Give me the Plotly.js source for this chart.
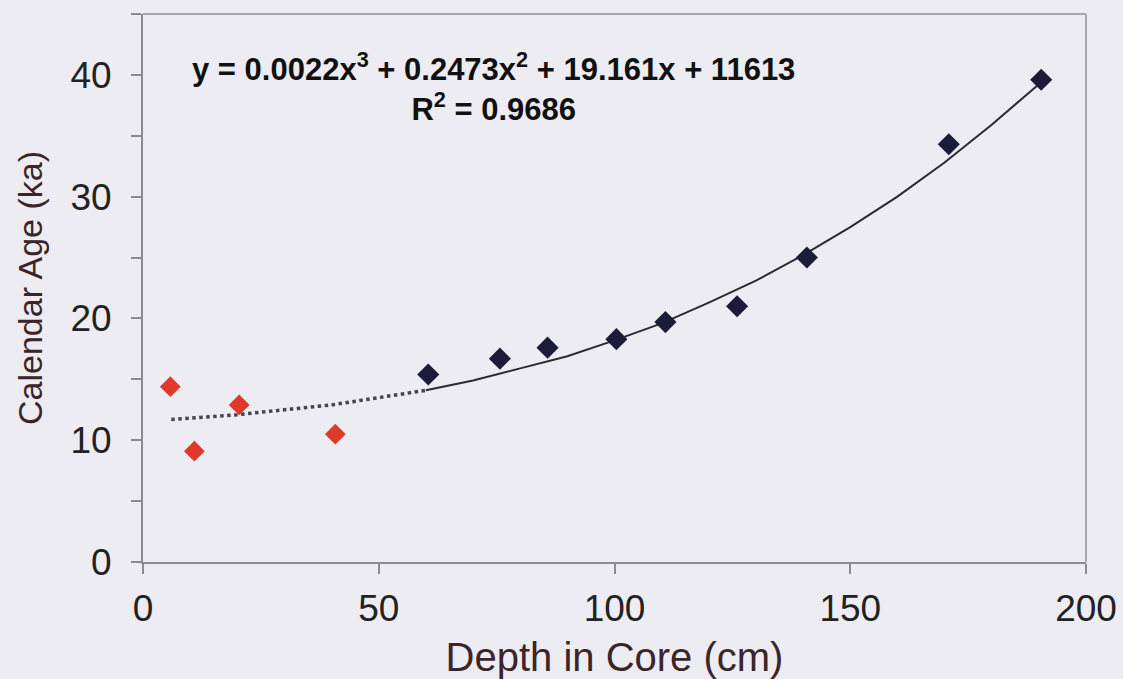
<!DOCTYPE html>
<html>
<head>
<meta charset="utf-8">
<script src="https://cdn.plot.ly/plotly-3.0.1.min.js"></script>
<style>
  html, body { margin: 0; padding: 0; background: #ECECF2; }
  #chart { width: 1123px; height: 679px; }
</style>
</head>
<body>
<div id="chart"></div>
<script>
// Depth in core (cm) and calendar age (ka)
const redDepth = [5.8, 10.9, 20.4, 40.8];
const redAge = [14.4, 9.1, 12.9, 10.5];

const blackDepth = [60.5, 75.7, 85.8, 100.4, 110.8, 126.0, 140.8, 170.9, 190.5];
const blackAge = [15.4, 16.7, 17.6, 18.3, 19.7, 21.0, 25.0, 34.3, 39.6];

// Trend line (dotted part, then solid part)
const trendDotDepth = [6, 10, 20, 30, 40, 50, 60];
const trendDotAge = [11.7, 11.8, 12.1, 12.5, 12.9, 13.5, 14.1];
const trendSolidDepth = [60, 70, 80, 90, 100, 110, 120, 130, 140, 150, 160, 170, 180, 190.5];
const trendSolidAge = [14.1, 14.9, 15.9, 16.9, 18.2, 19.6, 21.3, 23.1, 25.2, 27.5, 30.0, 32.8, 35.9, 39.4];

const yTickVals = [0, 10, 20, 30, 40];
const xTickVals = [0, 50, 100, 150, 200];

const equationText = "<b>y = 0.0022x<sup>3</sup> + 0.2473x<sup>2</sup> + 19.161x + 11613</b>";
const r2Text = "<b>R<sup>2</sup> = 0.9686</b>";

const FONT = '"Liberation Sans", Arial, sans-serif';

const traces = [
  {
    x: trendDotDepth, y: trendDotAge, type: 'scatter', mode: 'lines',
    line: { color: '#45454f', width: 3.5, dash: 'dot' }, hoverinfo: 'skip'
  },
  {
    x: trendSolidDepth, y: trendSolidAge, type: 'scatter', mode: 'lines',
    line: { color: '#2a2a30', width: 2 }, hoverinfo: 'skip'
  },
  {
    x: redDepth, y: redAge, type: 'scatter', mode: 'markers',
    marker: { symbol: 'diamond', size: 16, color: '#E0392B' }
  },
  {
    x: blackDepth, y: blackAge, type: 'scatter', mode: 'markers',
    marker: { symbol: 'diamond', size: 17, color: '#1C1C3A' }
  }
];

const layout = {
  width: 1123, height: 679,
  margin: { l: 143, r: 37, t: 14, b: 117, autoexpand: false },
  paper_bgcolor: '#ECECF2',
  plot_bgcolor: '#ECECF2',
  showlegend: false,
  font: { family: FONT, color: '#222222' },
  xaxis: {
    range: [0, 200], tickvals: xTickVals, ticktext: xTickVals.map(String),
    showgrid: false, zeroline: false,
    showline: true, linecolor: '#8A8A96', linewidth: 2,
    ticks: 'outside', ticklen: 10, tickcolor: '#8A8A96', tickwidth: 2,
    tickfont: { size: 37, color: '#222222', family: FONT },
    ticklabelstandoff: 3,
    title: { text: 'Depth in Core (cm)', font: { size: 40, color: '#3A2528', family: FONT }, standoff: 16 },
    automargin: false
  },
  yaxis: {
    range: [0, 45], tickvals: yTickVals, ticktext: yTickVals.map(String),
    showgrid: false, zeroline: false,
    showline: true, linecolor: '#8A8A96', linewidth: 2,
    ticks: 'outside', ticklen: 10, tickcolor: '#8A8A96', tickwidth: 2,
    minor: { dtick: 5, tick0: 0, ticks: 'outside', ticklen: 10, tickcolor: '#8A8A96', tickwidth: 2, showgrid: false },
    tickfont: { size: 37, color: '#222222', family: FONT },
    ticklabelstandoff: 12,
    title: { text: 'Calendar Age (ka)', font: { size: 34, color: '#3A2528', family: FONT }, standoff: 18 },
    automargin: false
  },
  shapes: [
    { type: 'line', xref: 'paper', yref: 'paper', x0: 0, x1: 1, y0: 1, y1: 1,
      line: { color: '#A6A6B0', width: 2 } },
    { type: 'line', xref: 'paper', yref: 'paper', x0: 1, x1: 1, y0: 0, y1: 1,
      line: { color: '#A6A6B0', width: 2 } }
  ],
  annotations: [
    { x: 74.3, y: 39.0, xref: 'x', yref: 'y', text: equationText + '<br>' + r2Text, showarrow: false,
      align: 'center', xanchor: 'center', yanchor: 'middle',
      font: { size: 31, color: '#111111', family: FONT } }
  ]
};

Plotly.newPlot('chart', traces, layout, { displayModeBar: false, staticPlot: true });
</script>
</body>
</html>
